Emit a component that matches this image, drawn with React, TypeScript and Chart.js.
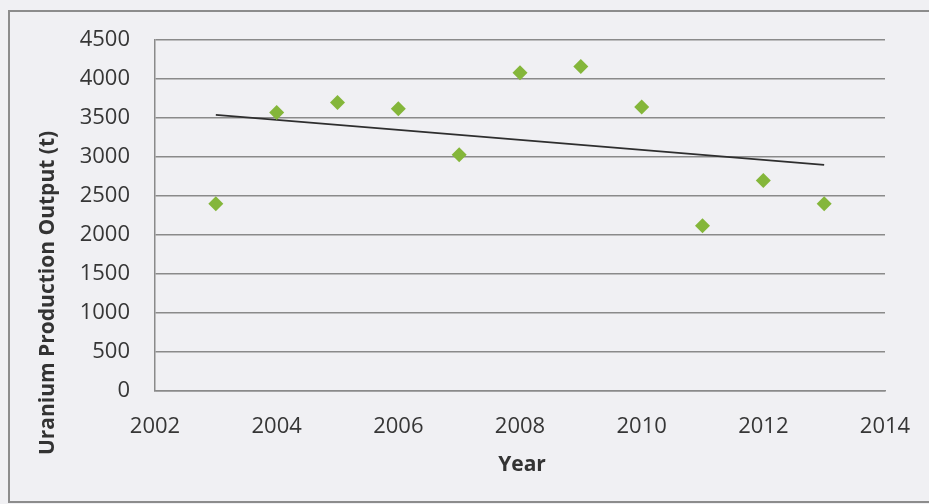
import React, { useEffect, useRef } from "react";
import { Chart, registerables } from "chart.js";

Chart.register(...registerables);

// Annual uranium production, tonnes
const years = [2003, 2004, 2005, 2006, 2007, 2008, 2009, 2010, 2011, 2012, 2013];
const output = [2400, 3570, 3700, 3620, 3030, 4080, 4160, 3640, 2120, 2700, 2400];

const xTicks = [2002, 2004, 2006, 2008, 2010, 2012, 2014];
const yTicks = [0, 500, 1000, 1500, 2000, 2500, 3000, 3500, 4000, 4500];

const W = 929;
const H = 504;
const FONT = "'Open Sans', 'Noto Sans', sans-serif";

// Least-squares linear trend over the data
function linearTrend(xs: number[], ys: number[]) {
  const n = xs.length;
  const mx = xs.reduce((a, b) => a + b, 0) / n;
  const my = ys.reduce((a, b) => a + b, 0) / n;
  let sxy = 0;
  let sxx = 0;
  for (let i = 0; i < n; i++) {
    sxy += (xs[i] - mx) * (ys[i] - my);
    sxx += (xs[i] - mx) * (xs[i] - mx);
  }
  const slope = sxy / sxx;
  const at = (x: number) => my + slope * (x - mx);
  return [
    { x: xs[0], y: at(xs[0]) },
    { x: xs[n - 1], y: at(xs[n - 1]) },
  ];
}

// Frame, background and axis titles
const framePlugin = {
  id: "frame",
  beforeDraw(chart: any) {
    const ctx = chart.ctx;
    ctx.save();
    ctx.fillStyle = "#f0f0f3";
    ctx.fillRect(0, 0, W, H);
    ctx.strokeStyle = "#8c8c8c";
    ctx.lineWidth = 2;
    ctx.strokeRect(9, 11, W + 20, H - 13);
    ctx.restore();
  },
  afterDraw(chart: any) {
    const ctx = chart.ctx;
    ctx.save();
    ctx.fillStyle = "#333333";
    ctx.font = `bold 21px ${FONT}`;
    ctx.textAlign = "center";
    ctx.textBaseline = "middle";
    ctx.fillText("Year", 522, 465);
    ctx.translate(48, 293);
    ctx.rotate(-Math.PI / 2);
    ctx.fillText("Uranium Production Output (t)", 0, 0);
    ctx.restore();
  },
};

export default function App() {
  const ref = useRef<HTMLCanvasElement>(null);

  useEffect(() => {
    if (!ref.current) return;
    const points = years.map((y, i) => ({ x: y, y: output[i] }));
    const chart = new Chart(ref.current, {
      type: "scatter",
      data: {
        datasets: [
          {
            label: "Output",
            data: points,
            pointStyle: "rectRot",
            pointRadius: 7.5,
            pointBackgroundColor: "#84b63a",
            pointBorderWidth: 0,
            borderWidth: 0,
          },
          {
            type: "line",
            label: "Trend",
            data: linearTrend(years, output),
            borderColor: "#2e2e2e",
            borderWidth: 1.6,
            pointRadius: 0,
            fill: false,
          } as any,
        ],
      },
      options: {
        responsive: false,
        animation: false,
        devicePixelRatio: 1,
        layout: { padding: { left: 0, top: 40, right: 44, bottom: 0 } },
        plugins: {
          legend: { display: false },
          tooltip: { enabled: false },
        },
        scales: {
          x: {
            type: "linear",
            min: xTicks[0],
            max: xTicks[xTicks.length - 1],
            afterBuildTicks: (scale: any) => {
              scale.ticks = xTicks.map((v) => ({ value: v }));
            },
            afterFit: (scale: any) => {
              scale.height = 113;
              scale.paddingLeft = 0;
              scale.paddingRight = 0;
            },
            grid: { display: false, drawTicks: false },
            border: { display: true, color: "#8a8a8a", width: 1.5 },
            ticks: {
              autoSkip: false,
              maxRotation: 0,
              padding: 23,
              color: "#363636",
              font: { family: FONT, size: 22 },
              callback: (v: any) => String(v),
            },
          },
          y: {
            type: "linear",
            min: yTicks[0],
            max: yTicks[yTicks.length - 1],
            afterBuildTicks: (scale: any) => {
              scale.ticks = yTicks.map((v) => ({ value: v }));
            },
            afterFit: (scale: any) => {
              scale.width = 155;
              scale.paddingTop = 0;
              scale.paddingBottom = 0;
            },
            grid: { color: "#8a8a8a", lineWidth: 1.5, drawTicks: false },
            border: { display: true, color: "#8a8a8a", width: 1.5 },
            ticks: {
              padding: 25,
              color: "#363636",
              font: { family: FONT, size: 22 },
              callback: (v: any) => String(v),
            },
          },
        },
      },
      plugins: [framePlugin],
    });
    return () => chart.destroy();
  }, []);

  return (
    <div style={{ position: "fixed", left: 0, top: 0, width: W, height: H }}>
      <canvas ref={ref} width={W} height={H} style={{ width: W, height: H, display: "block" }} />
    </div>
  );
}
